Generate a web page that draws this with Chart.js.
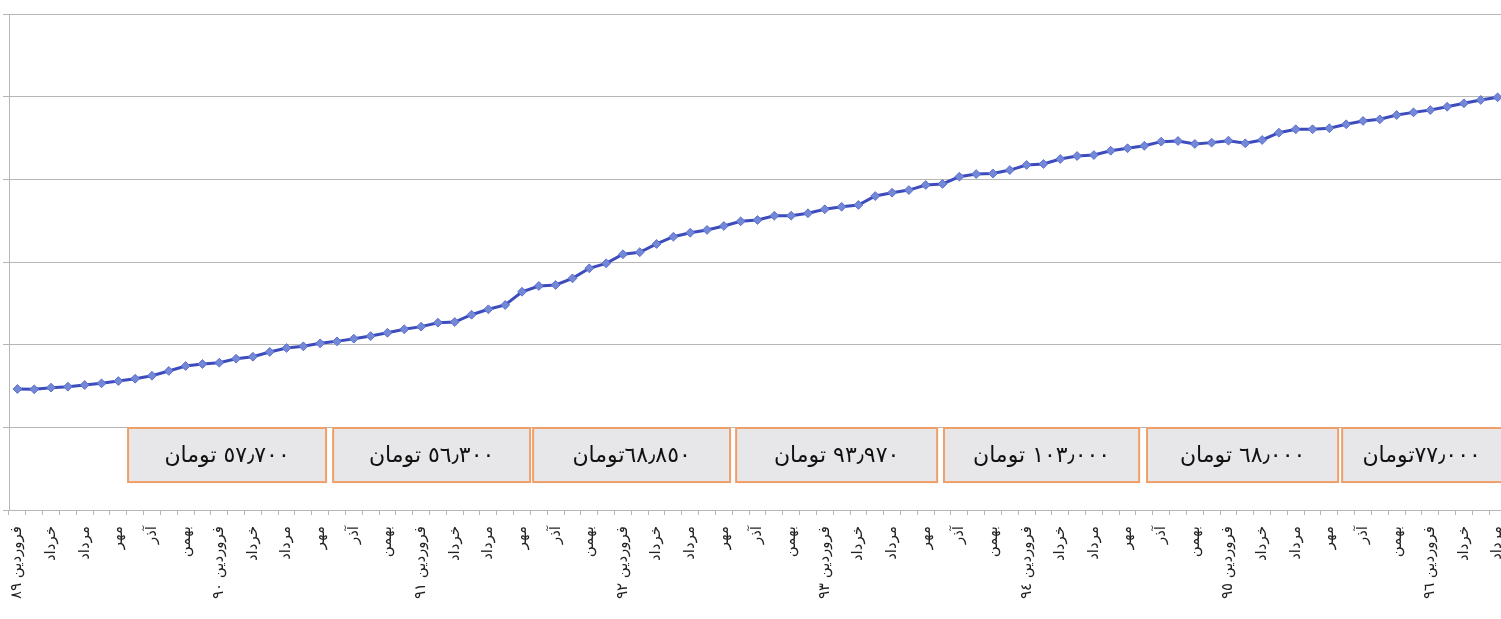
<!DOCTYPE html>
<html lang="fa">
<head>
<meta charset="utf-8">
<title>روند ماهانه</title>
<script src="https://cdn.jsdelivr.net/npm/chart.js@4/dist/chart.umd.min.js"></script>
<style>
  html, body { margin: 0; padding: 0; background: #ffffff; overflow: hidden; }
  canvas { display: block; }
</style>
</head>
<body>
<canvas id="chart" width="1512" height="619"></canvas>
<script>
// Persian calendar months and the years covered (۱۳۸۹ to ۱۳۹۶)
const monthNames = ['فروردین', 'اردیبهشت', 'خرداد', 'تیر', 'مرداد', 'شهریور',
                    'مهر', 'آبان', 'آذر', 'دی', 'بهمن', 'اسفند'];
const yearNames = ['٨٩', '٩٠', '٩١', '٩٢', '٩٣', '٩٤', '٩٥', '٩٦'];

// Monthly series, فروردین ۸۹ through مرداد ۹۶
const monthlyValues = [
  73.2, 73.0, 74.0, 74.6, 75.6, 76.6, 78.0, 79.4, 81.2, 84.1,
  87.1, 88.3, 89.1, 91.5, 92.7, 95.6, 98.0, 99.0, 100.8, 102.0,
  103.6, 105.2, 107.2, 109.3, 110.9, 113.3, 113.7, 118.1, 121.4, 124.0,
  132.0, 135.5, 136.1, 140.1, 146.2, 149.2, 154.7, 155.9, 160.9, 165.3,
  167.7, 169.4, 171.8, 174.6, 175.4, 178.0, 178.0, 179.5, 181.9, 183.4,
  184.5, 189.9, 191.9, 193.5, 196.6, 197.2, 201.6, 203.2, 203.5, 205.6,
  208.7, 209.3, 212.3, 214.1, 214.7, 217.3, 218.8, 220.3, 222.8, 223.2,
  221.4, 222.2, 223.4, 221.8, 223.8, 228.2, 230.3, 230.3, 230.9, 233.3,
  235.3, 236.3, 238.9, 240.5, 241.9, 243.9, 246.0, 248.0, 249.6
];

// Price notes per period: first and last month (as category positions) and the text
const periodStart = [6.58, 18.77, 30.66, 42.73, 55.09, 67.16, 78.76];
const periodEnd   = [18.35, 30.48, 42.37, 54.68, 66.69, 78.52, 90.5];
const periodText  = ['٥٧٫٧٠٠ تومان', '٥٦٫٣٠٠ تومان', '٦٨٫٨٥٠تومان', '٩٣٫٩٧٠ تومان',
                     '١٠٣٫٠٠٠ تومان', '٦٨٫٠٠٠ تومان', '٧٧٫٠٠٠تومان'];

// Category labels: month name, with the year added on each فروردین
const categories = monthlyValues.map((_, i) => {
  const m = monthNames[i % 12];
  return i % 12 === 0 ? m + ' ' + yearNames[Math.floor(i / 12)] : m;
});

const GRID = '#b6b6b6';
const FONT = "'DejaVu Sans', sans-serif";

// Draws the framed price notes under the curve
const periodNotes = {
  id: 'periodNotes',
  afterDatasetsDraw(chart) {
    const { ctx, scales: { x, y } } = chart;
    const top = y.getPixelForValue(49.6);
    const bottom = y.getPixelForValue(16.9);
    ctx.save();
    periodText.forEach((txt, k) => {
      const l = x.getPixelForValue(periodStart[k]);
      const r = x.getPixelForValue(periodEnd[k]);
      ctx.fillStyle = '#e7e7e9';
      ctx.fillRect(l, top, r - l, bottom - top);
      ctx.strokeStyle = '#ef9f6a';
      ctx.lineWidth = 2;
      ctx.strokeRect(l, top, r - l, bottom - top);
      ctx.fillStyle = '#111111';
      ctx.font = "22px " + FONT;
      ctx.textAlign = 'center';
      ctx.textBaseline = 'middle';
      ctx.direction = 'rtl';
      const cx = Math.min((l + r) / 2, (l + 1501) / 2);
      ctx.fillText(txt, cx, (top + bottom) / 2 + 1);
    });
    ctx.restore();
  }
};

new Chart(document.getElementById('chart'), {
  type: 'line',
  data: {
    labels: categories,
    datasets: [{
      data: monthlyValues,
      borderColor: '#3d4cbd',
      borderWidth: 3,
      pointStyle: 'rectRot',
      pointRadius: 4.4,
      pointBackgroundColor: '#7488d8',
      pointBorderColor: '#5b6fcf',
      pointBorderWidth: 1,
      tension: 0,
      clip: false
    }]
  },
  options: {
    responsive: false,
    animation: false,
    devicePixelRatio: 1,
    layout: { padding: { top: 14, right: 6, left: 0, bottom: 0 } },
    plugins: { legend: { display: false }, tooltip: { enabled: false } },
    scales: {
      x: {
        type: 'category',
        offset: true,
        grid: {
          display: true,
          drawOnChartArea: false,
          drawTicks: true,
          tickLength: 5,
          offset: true,
          color: GRID
        },
        border: { display: true, color: GRID, width: 1 },
        ticks: {
          autoSkip: false,
          minRotation: 90,
          maxRotation: 90,
          padding: 11,
          color: '#222222',
          font: { family: FONT, size: 15 },
          callback: (v, i) => (i % 2 === 0 ? categories[i] : '')
        },
        afterFit: (s) => { s.height = 109; s.paddingLeft = 0; s.paddingRight = 0; }
      },
      y: {
        min: 0,
        max: 300,
        grid: { color: GRID, tickLength: 6, drawTicks: true },
        border: { display: true, color: GRID, width: 1 },
        ticks: { stepSize: 50, display: false },
        afterFit: (s) => { s.width = 9; }
      }
    }
  },
  plugins: [periodNotes]
});
</script>
</body>
</html>
